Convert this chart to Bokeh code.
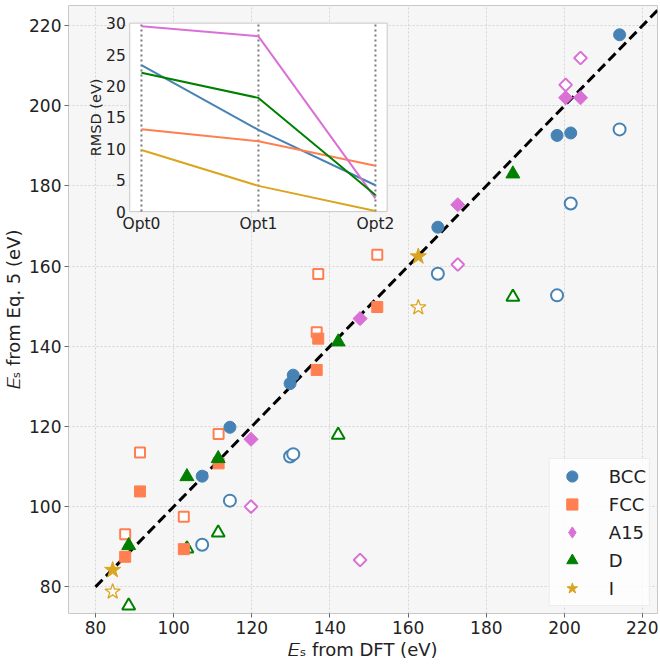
import math
from bokeh.plotting import figure
from bokeh.models import Range1d, Legend, LegendItem, FixedTicker
from bokeh.core.properties import value
from bokeh.embed import file_html
from bokeh.resources import INLINE

# ---------------- data (main scatter) ----------------
bcc_dft = [107.3, 114.4, 129.8, 130.6, 167.6, 198.1, 201.6, 214.1]
bcc_fit = [107.6, 119.8, 130.7, 132.8, 169.7, 192.6, 193.2, 217.7]
bcc_raw = [90.5, 101.5, 112.5, 113.1, 158.1, 152.7, 175.6, 194.1]

fcc_dft = [87.6, 91.4, 102.6, 111.5, 136.6, 137.0, 152.1]
fcc_fit = [87.5, 103.8, 89.4, 110.8, 134.1, 141.9, 149.8]
fcc_raw = [93.1, 113.5, 97.5, 118.1, 143.5, 158.0, 162.8]

a15_dft = [119.8, 147.7, 172.7, 200.3, 204.1]
a15_fit = [116.8, 146.9, 175.3, 202.0, 202.0]
a15_raw = [100.0, 86.7, 160.4, 205.2, 211.9]

d_dft = [88.5, 103.4, 111.4, 142.1, 186.8]
d_fit = [90.3, 107.5, 112.0, 141.1, 183.0]
d_raw = [75.3, 89.5, 93.5, 117.9, 152.3]

i_dft = [84.4, 162.6]
i_fit = [84.2, 162.4]
i_raw = [78.8, 149.7]

diag = [80, 226]
main_ticks = [80, 100, 120, 140, 160, 180, 200, 220]

# ---------------- data (inset) ----------------
stages = ["Opt0", "Opt1", "Opt2"]
stage_idx = [0, 1, 2]
rmsd_bcc = [23.3, 13.0, 4.2]
rmsd_fcc = [13.1, 11.2, 7.3]
rmsd_a15 = [29.5, 27.9, 2.1]
rmsd_d = [22.1, 18.1, 2.65]
rmsd_i = [9.8, 4.1, 0.1]
inset_yticks = [0, 5, 10, 15, 20, 25, 30]
inset_xlim = (-0.1, 2.1)
inset_ylim = (0, 30)

C_BCC = "#4682b4"
C_FCC = "#ff7f50"
C_A15 = "#da70d6"
C_D = "#008000"
C_I = "#daa520"

FONT = "DejaVu Sans"

p = figure(width=658, height=662, x_range=Range1d(73.1, 223.8), y_range=Range1d(73.35, 225),
           output_backend="svg", toolbar_location=None,
           min_border_left=40, min_border_right=1, min_border_top=5, min_border_bottom=0)
p.background_fill_color = "#f6f6f6"
p.border_fill_color = "white"
p.outline_line_color = "#c8c8c8"
p.outline_line_width = 1

for ax in (p.xaxis, p.yaxis):
    ax.ticker = FixedTicker(ticks=main_ticks)
    ax.axis_line_color = None
    ax.major_tick_line_color = "#666666"
    ax.major_tick_out = 4
    ax.major_tick_in = 0
    ax.minor_tick_line_color = None
    ax.major_label_text_font = FONT
    ax.major_label_text_font_size = "17px"
    ax.major_label_text_color = "#222222"
    ax.axis_label_text_font = FONT
    ax.axis_label_text_font_size = "18px"
    ax.axis_label_text_font_style = "normal"
    ax.axis_label_text_color = "#222222"
    ax.major_label_standoff = 3
    ax.axis_label_standoff = 2
p.xaxis.axis_label = "𝐸ₛ from DFT (eV)"
p.yaxis.axis_label = "𝐸ₛ from Eq. 5 (eV)"

p.grid.grid_line_color = "#d4d4d4"
p.grid.grid_line_dash = "2 2"
p.grid.grid_line_width = 1

# inset ranges: place inset box as fraction of the frame
fx0, fx1, fy0, fy1 = 0.104, 0.541, 0.661, 0.971
sx = (inset_xlim[1] - inset_xlim[0]) / (fx1 - fx0)
x0 = inset_xlim[0] - fx0 * sx
sy = (inset_ylim[1] - inset_ylim[0]) / (fy1 - fy0)
y0 = inset_ylim[0] - fy0 * sy
p.extra_x_ranges = {"ix": Range1d(x0, x0 + sx)}
p.extra_y_ranges = {"iy": Range1d(y0, y0 + sy)}

# diagonal
p.line(diag, diag, line_color="black", line_width=3, line_dash="10 5")

# open markers first
p.scatter(bcc_dft, bcc_raw, marker="circle", size=12, fill_color="white", line_color=C_BCC, line_width=2)
p.scatter(fcc_dft, fcc_raw, marker="square", size=10, fill_color="white", line_color=C_FCC, line_width=2)
p.scatter(a15_dft, a15_raw, marker="square", angle=math.pi / 4, size=9, fill_color="white", line_color=C_A15, line_width=2)
p.scatter(d_dft, d_raw, marker="triangle", size=13, fill_color="white", line_color=C_D, line_width=2)
p.scatter(i_dft, i_raw, marker="star", size=16, fill_color="white", line_color=C_I, line_width=1.3)

r_bcc = p.scatter(bcc_dft, bcc_fit, marker="circle", size=12, fill_color=C_BCC, line_color=C_BCC)
r_fcc = p.scatter(fcc_dft, fcc_fit, marker="square", size=11, fill_color=C_FCC, line_color=C_FCC)
# diamond glyph used for the legend swatch (tiny, hidden under the rotated squares)
r_a15_leg = p.scatter(a15_dft, a15_fit, marker="diamond", size=2, fill_color=C_A15, line_color=C_A15)
r_a15 = p.scatter(a15_dft, a15_fit, marker="square", angle=math.pi / 4, size=10, fill_color=C_A15, line_color=C_A15)
r_d = p.scatter(d_dft, d_fit, marker="triangle", size=14, fill_color=C_D, line_color=C_D)
r_i = p.scatter(i_dft, i_fit, marker="star", size=17, fill_color=C_I, line_color=C_I)

# ---------------- inset ----------------
kw = dict(x_range_name="ix", y_range_name="iy")
p.quad(left=inset_xlim[0], right=inset_xlim[1], bottom=inset_ylim[0], top=inset_ylim[1],
       fill_color="white", line_color="#c8c8c8", line_width=1, **kw)
p.segment(x0=stage_idx, y0=[inset_ylim[0]] * 3, x1=stage_idx, y1=[inset_ylim[1]] * 3,
          line_color="#7a7a7a", line_width=2, line_dash="2 3", **kw)
for ys, c in [(rmsd_bcc, C_BCC), (rmsd_fcc, C_FCC), (rmsd_a15, C_A15), (rmsd_d, C_D), (rmsd_i, C_I)]:
    p.line(stage_idx, ys, line_color=c, line_width=2, **kw)

p.text(x=[inset_xlim[0]] * len(inset_yticks), y=inset_yticks, text=[str(t) for t in inset_yticks],
       text_align="right", text_baseline="middle", x_offset=-4,
       text_font=value(FONT), text_font_size="15.5px", text_color="#222222", **kw)
p.text(x=stage_idx, y=[inset_ylim[0]] * 3, text=stages,
       text_align="center", text_baseline="top", y_offset=3,
       text_font=value(FONT), text_font_size="15.5px", text_color="#222222", **kw)
p.text(x=[inset_xlim[0]], y=[(inset_ylim[0] + inset_ylim[1]) / 2], text=["RMSD (eV)"],
       angle=math.pi / 2, text_align="center", text_baseline="middle", x_offset=-34,
       text_font=value(FONT), text_font_size="14.5px", text_color="#222222", **kw)

# legend
legend = Legend(items=[LegendItem(label="BCC", renderers=[r_bcc]),
                       LegendItem(label="FCC", renderers=[r_fcc]),
                       LegendItem(label="A15", renderers=[r_a15_leg]),
                       LegendItem(label="D", renderers=[r_d]),
                       LegendItem(label="I", renderers=[r_i])],
                location="bottom_right")
legend.label_text_font = FONT
legend.label_text_font_size = "18px"
legend.label_text_color = "#222222"
legend.glyph_width = 38
legend.glyph_height = 28
legend.label_height = 28
legend.label_standoff = 18
legend.spacing = 0
legend.padding = 3
legend.margin = 7
legend.background_fill_color = "white"
legend.background_fill_alpha = 0.8
legend.border_line_color = "#dddddd"
p.add_layout(legend)

open("out.html", "w").write(file_html(p, INLINE))
